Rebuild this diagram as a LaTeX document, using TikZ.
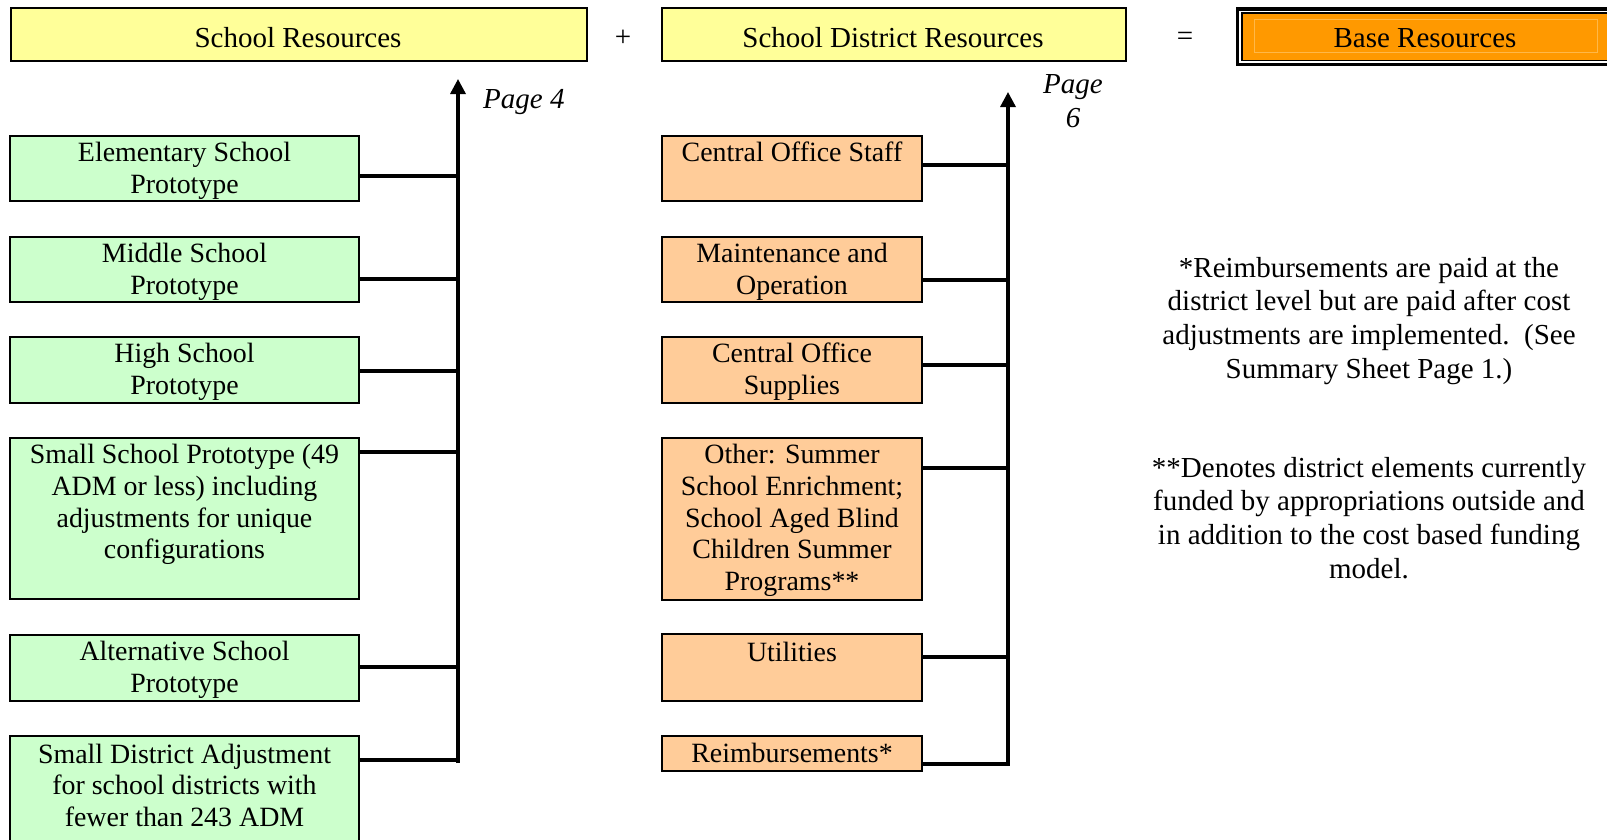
\documentclass[tikz,border=0pt]{standalone}
\usepackage{fontspec}
\setmainfont{Liberation Serif}
\usetikzlibrary{arrows.meta}
\definecolor{yel}{HTML}{FFFF99}
\definecolor{grn}{HTML}{CCFFCC}
\definecolor{peach}{HTML}{FFCC99}
\definecolor{org}{HTML}{FF9900}
\definecolor{orgline}{HTML}{FFB848}
\begin{document}
\begin{tikzpicture}[x=1pt,y=-1pt,
  boxfont/.style={font=\fontsize{27.9}{31.7}\selectfont},
  bigfont/.style={font=\fontsize{29}{33.6}\selectfont},
  itfont/.style={font=\fontsize{29}{34}\selectfont\itshape},
  box/.style={draw=black, line width=2pt, inner sep=0pt, anchor=north west},
  gbox/.style={box, fill=grn, minimum width=349pt},
  pbox/.style={box, fill=peach, minimum width=260pt},
  ybox/.style={box, fill=yel},
  btext/.style={boxfont, align=center, anchor=north, inner sep=0pt, yshift=-4.3pt},
  ttext/.style={bigfont, anchor=base, inner sep=0pt},
  conn/.style={line width=3.3pt},
  spine/.style={line width=3.3pt, -{Triangle[length=15pt,width=15pt]}}
]
\useasboundingbox (0,0) rectangle (1607,839);
\clip (0,0) rectangle (1607,839);
\fill[white] (0,0) rectangle (1607,839);

% top row
\node[ybox, minimum width=576pt, minimum height=52.7pt] (sr) at (10,7.3) {};
\node[ttext] (srt) at (298,47) {School Resources};
\node[ttext] (plus) at (623,46) {+};
\node[ybox, minimum width=464pt, minimum height=52.7pt] (sdr) at (661,7.3) {};
\node[ttext] (sdrt) at (893,47) {School District Resources};
\node[ttext] (eq) at (1185,45) {=};

% Base Resources (triple border)
\fill[black] (1236,7.3) rectangle (1620,66);
\fill[white] (1239.3,10.5) rectangle (1616,62.6);
\fill[black] (1240.8,11.9) rectangle (1615,61.1);
\node[fill=org, inner sep=0pt, anchor=north west, minimum width=372pt, minimum height=46.4pt] (base) at (1242.3,13.3) {};
\draw[orgline, line width=0.8pt] (1254,19.3) rectangle (1597,52.7);
\node[ttext] (baset) at (1425,47) {Base Resources};

% left column boxes
\node[gbox, minimum height=65pt] (e1) at (9,135) {};
\node[gbox, minimum height=65pt] (e2) at (9,236) {};
\node[gbox, minimum height=66pt] (e3) at (9,336) {};
\node[gbox, minimum height=161pt] (e4) at (9,437) {};
\node[gbox, minimum height=66pt] (e5) at (9,634) {};
\node[gbox, minimum height=130pt] (e6) at (9,735) {};
\node[btext] (te1) at (e1.north) {\strut Elementary School\\Prototype};
\node[btext] (te2) at (e2.north) {\strut Middle School\\Prototype};
\node[btext] (te3) at (e3.north) {\strut High School\\Prototype};
\node[btext] (te4) at (e4.north) {\strut Small School Prototype (49\\ADM or less) including\\adjustments for unique\\configurations};
\node[btext] (te5) at (e5.north) {\strut Alternative School\\Prototype};
\node[btext, yshift=-1.5pt] (te6) at (e6.north) {\strut Small District Adjustment\\for school districts with\\fewer than 243 ADM};

% middle column boxes
\node[pbox, minimum height=65pt] (m1) at (661,135) {};
\node[pbox, minimum height=65pt] (m2) at (661,236) {};
\node[pbox, minimum height=66pt] (m3) at (661,336) {};
\node[pbox, minimum height=162pt] (m4) at (661,437) {};
\node[pbox, minimum height=67pt] (m5) at (661,633) {};
\node[pbox, minimum height=35pt] (m6) at (661,735) {};
\node[btext] (tm1) at (m1.north) {\strut Central Office Staff};
\node[btext] (tm2) at (m2.north) {\strut Maintenance and\\Operation};
\node[btext] (tm3) at (m3.north) {\strut Central Office\\Supplies};
\node[btext] (tm4) at (m4.north) {\strut Other: Summer\\School Enrichment;\\School Aged Blind\\Children Summer\\Programs**};
\node[btext, yshift=-1.5pt] (tm5) at (m5.north) {\strut Utilities};
\node[btext, yshift=-0.5pt] (tm6) at (m6.north) {\strut Reimbursements*};

% left spine
\coordinate (Ltop) at (458,79);
\coordinate (Lbot) at (458,763);
\coordinate (Lj1) at (458,176);
\coordinate (Lj2) at (458,279);
\coordinate (Lj3) at (458,371);
\coordinate (Lj4) at (458,452);
\coordinate (Lj5) at (458,667);
\coordinate (Lj6) at (458,760);
\draw[spine] (Lbot) -- (Ltop);
\foreach \i in {1,...,6} {\draw[conn] (Lj\i -| e\i.east) -- (Lj\i);}

% middle spine
\coordinate (Mtop) at (1008,92);
\coordinate (Mj1) at (1008,165);
\coordinate (Mj2) at (1008,280);
\coordinate (Mj3) at (1008,365);
\coordinate (Mj4) at (1008,468);
\coordinate (Mj5) at (1008,657);
\coordinate (Mj6) at (1008,764);
\draw[spine] (Mj6 -| m6.east) -- (Mj6) -- (Mtop);
\foreach \i in {1,...,5} {\draw[conn] (Mj\i -| m\i.east) -- (Mj\i);}

% page labels
\node[itfont, anchor=base west, inner sep=0pt] (p4) at (483,108) {Page 4};
\node[itfont, align=center, anchor=north, inner sep=0pt] (p6) at (1073,69.2) {\strut Page\\6};

% notes
\node[bigfont, align=center, anchor=north, inner sep=0pt] (n1) at (1369,253.5) {\strut *Reimbursements are paid at the\\district level but are paid after cost\\adjustments are implemented.\ \ (See\\Summary Sheet Page 1.)};
\node[bigfont, align=center, anchor=north, inner sep=0pt] (n2) at (1369,453.5) {\strut **Denotes district elements currently\\funded by appropriations outside and\\in addition to the cost based funding\\model.};
\end{tikzpicture}
\end{document}
